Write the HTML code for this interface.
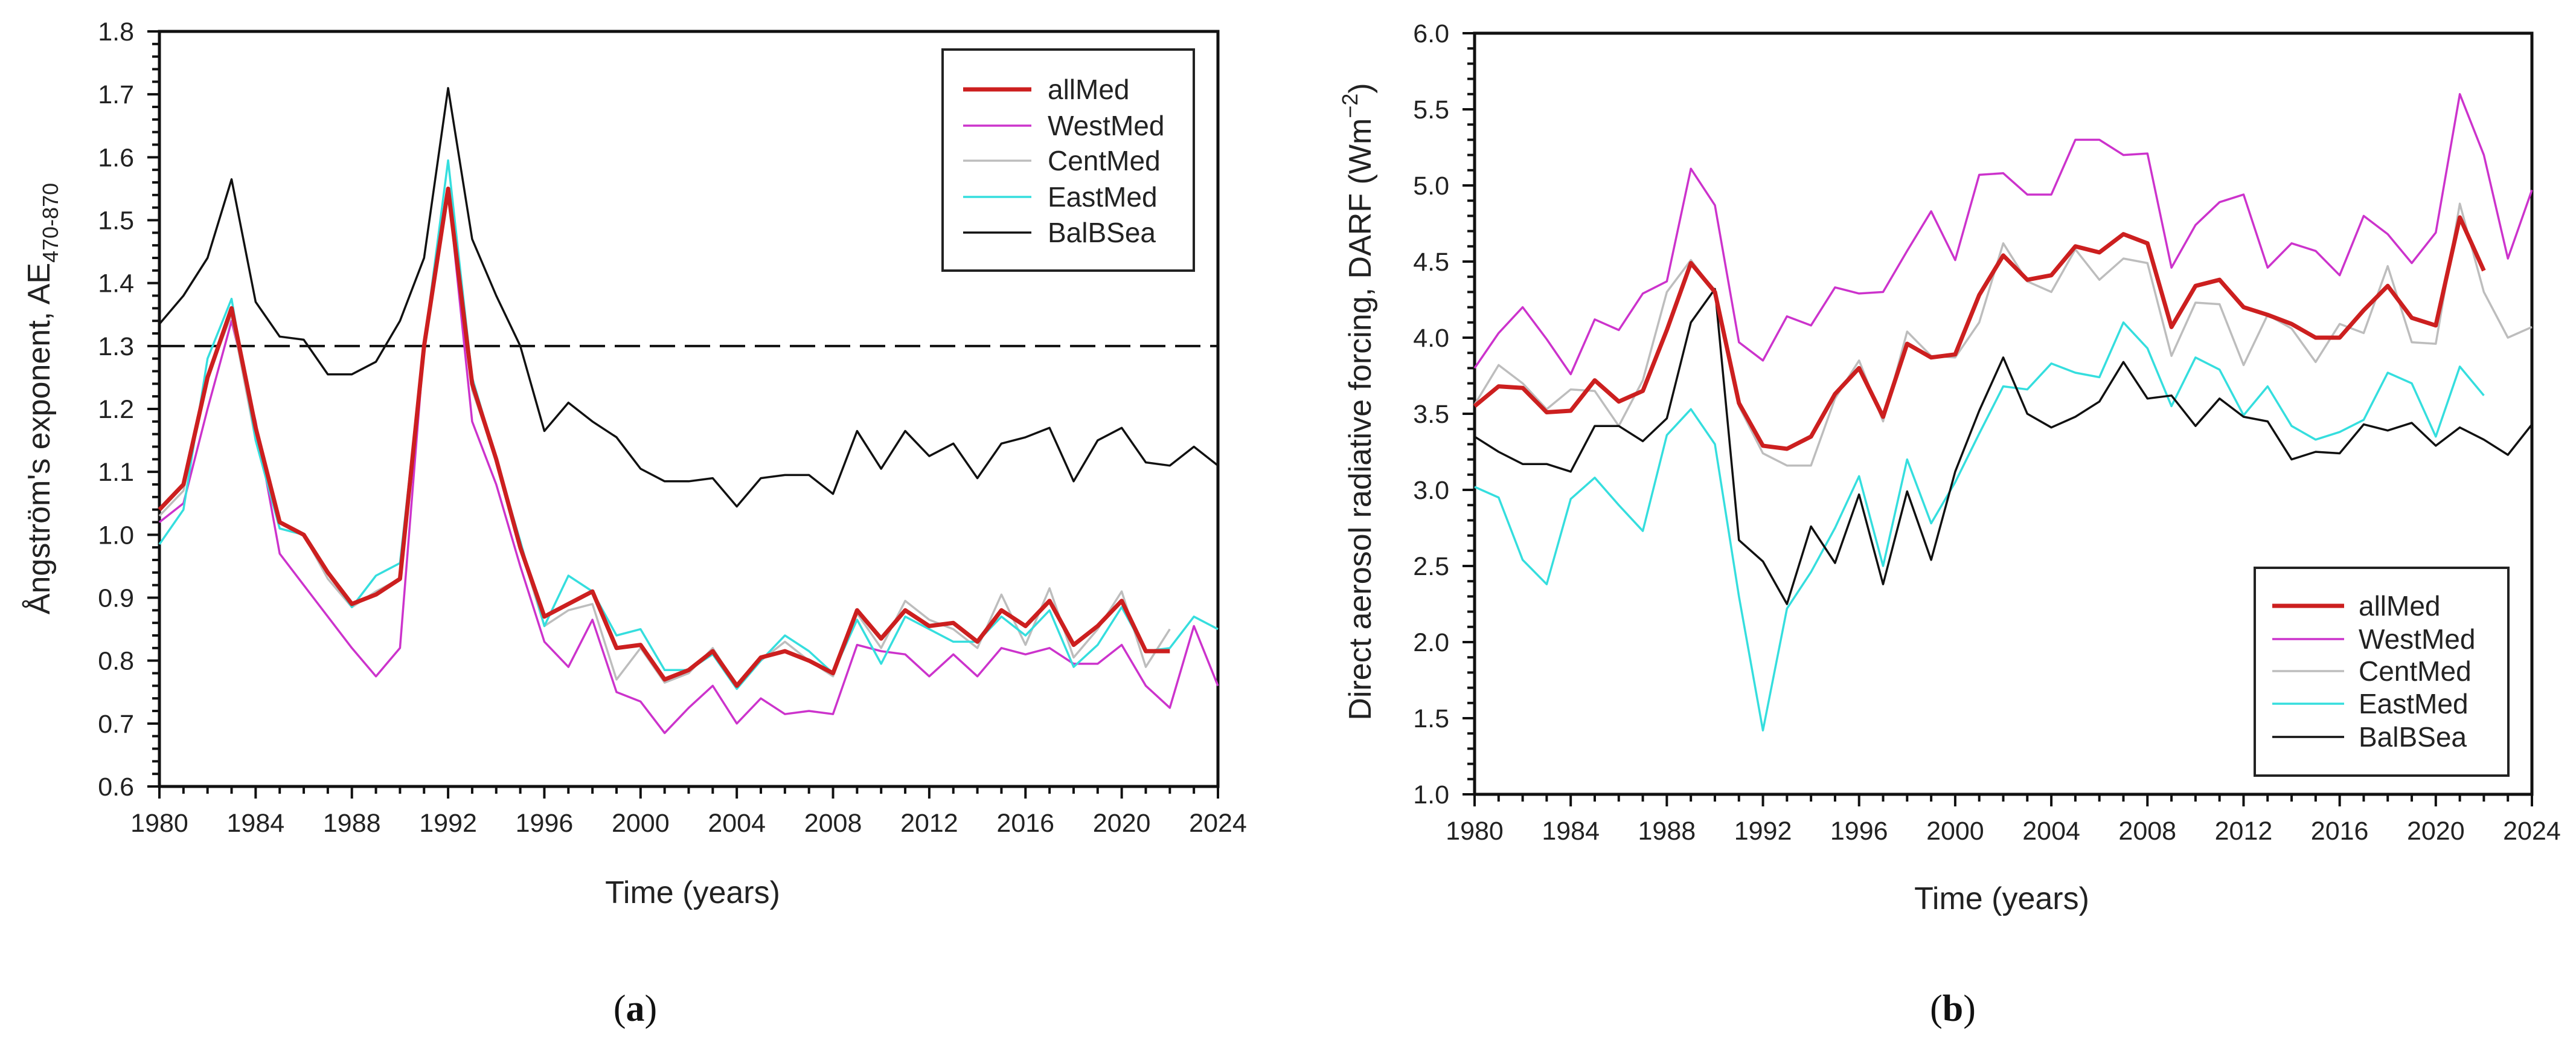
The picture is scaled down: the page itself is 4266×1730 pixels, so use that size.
<!DOCTYPE html>
<html><head><meta charset="utf-8">
<style>
html,body{margin:0;padding:0;background:#fff;}
svg{display:block;font-family:"Liberation Sans",Arial,sans-serif;}
</style></head>
<body>
<svg id="fig" width="4266" height="1730" viewBox="0 0 4266 1730" xmlns="http://www.w3.org/2000/svg"></svg>
<script>
const years = Array.from({length:45},(_,i)=>1980+i);
const seriesNames = ["allMed","WestMed","CentMed","EastMed","BalBSea"];
// Panel (a) AE values
const aeAllMed=[1.04,1.08,1.25,1.36,1.17,1.02,1.0,0.94,0.89,0.905,0.93,1.3,1.55,1.24,1.12,0.98,0.87,0.89,0.91,0.82,0.825,0.77,0.785,0.815,0.76,0.805,0.815,0.80,0.78,0.88,0.835,0.88,0.855,0.86,0.83,0.88,0.855,0.895,0.825,0.855,0.895,0.815,0.815];
const aeWestMed=[1.02,1.05,1.2,1.34,1.18,0.97,0.92,0.87,0.82,0.775,0.82,1.3,1.55,1.18,1.08,0.95,0.83,0.79,0.865,0.75,0.735,0.685,0.725,0.76,0.70,0.74,0.715,0.72,0.715,0.825,0.815,0.81,0.775,0.81,0.775,0.82,0.81,0.82,0.795,0.795,0.825,0.76,0.725,0.855,0.76];
const aeCentMed=[1.03,1.07,1.25,1.35,1.15,1.01,1.0,0.93,0.885,0.91,0.93,1.3,1.54,1.23,1.12,0.98,0.855,0.88,0.89,0.77,0.82,0.765,0.78,0.82,0.76,0.80,0.83,0.80,0.775,0.875,0.82,0.895,0.865,0.85,0.82,0.905,0.825,0.915,0.805,0.85,0.91,0.79,0.85];
const aeEastMed=[0.985,1.04,1.28,1.375,1.15,1.01,1.0,0.94,0.885,0.935,0.955,1.3,1.595,1.25,1.12,0.99,0.855,0.935,0.91,0.84,0.85,0.785,0.785,0.81,0.755,0.80,0.84,0.815,0.78,0.865,0.795,0.87,0.85,0.83,0.83,0.87,0.84,0.88,0.79,0.825,0.885,0.815,0.82,0.87,0.85];
const aeBalBSea=[1.335,1.38,1.44,1.565,1.37,1.315,1.31,1.255,1.255,1.275,1.34,1.44,1.71,1.47,1.38,1.30,1.165,1.21,1.18,1.155,1.105,1.085,1.085,1.09,1.045,1.09,1.095,1.095,1.065,1.165,1.105,1.165,1.125,1.145,1.09,1.145,1.155,1.17,1.085,1.15,1.17,1.115,1.11,1.14,1.11];
// Panel (b) DARF values
const dAllMed=[3.55,3.68,3.67,3.51,3.52,3.72,3.58,3.65,4.05,4.49,4.3,3.57,3.29,3.27,3.35,3.63,3.80,3.48,3.96,3.87,3.89,4.28,4.54,4.38,4.41,4.60,4.56,4.68,4.62,4.07,4.34,4.38,4.20,4.15,4.09,4.00,4.00,4.18,4.34,4.13,4.08,4.79,4.44];
const dWestMed=[3.80,4.03,4.20,3.99,3.76,4.12,4.05,4.29,4.37,5.11,4.87,3.97,3.85,4.14,4.08,4.33,4.29,4.30,4.57,4.83,4.51,5.07,5.08,4.94,4.94,5.30,5.30,5.20,5.21,4.46,4.74,4.89,4.94,4.46,4.62,4.57,4.41,4.80,4.68,4.49,4.69,5.60,5.20,4.52,4.97];
const dCentMed=[3.56,3.82,3.70,3.53,3.66,3.65,3.42,3.72,4.30,4.51,4.30,3.55,3.24,3.16,3.16,3.60,3.85,3.45,4.04,3.88,3.87,4.10,4.62,4.37,4.30,4.58,4.38,4.52,4.49,3.88,4.23,4.22,3.82,4.15,4.06,3.84,4.09,4.03,4.47,3.97,3.96,4.88,4.30,4.00,4.07];
const dEastMed=[3.02,2.95,2.54,2.38,2.94,3.08,2.90,2.73,3.36,3.53,3.30,2.30,1.42,2.22,2.46,2.75,3.09,2.50,3.20,2.78,3.05,3.37,3.68,3.66,3.83,3.77,3.74,4.10,3.93,3.55,3.87,3.79,3.49,3.68,3.42,3.33,3.38,3.46,3.77,3.70,3.35,3.81,3.62];
const dBalBSea=[3.35,3.25,3.17,3.17,3.12,3.42,3.42,3.32,3.47,4.10,4.32,2.67,2.53,2.25,2.76,2.52,2.97,2.38,2.99,2.54,3.12,3.52,3.87,3.50,3.41,3.48,3.58,3.84,3.60,3.62,3.42,3.60,3.48,3.45,3.20,3.25,3.24,3.43,3.39,3.44,3.29,3.41,3.33,3.23,3.43];
const xTickLabels=["1980","1984","1988","1992","1996","2000","2004","2008","2012","2016","2020","2024"];
const aeTickLabels=["0.6","0.7","0.8","0.9","1.0","1.1","1.2","1.3","1.4","1.5","1.6","1.7","1.8"];
const dTickLabels=["1.0","1.5","2.0","2.5","3.0","3.5","4.0","4.5","5.0","5.5","6.0"];

const NS="http://www.w3.org/2000/svg";
const svg=document.getElementById('fig');
function mk(tag,attrs,parent){const e=document.createElementNS(NS,tag);for(const k in attrs)e.setAttribute(k,attrs[k]);(parent||svg).appendChild(e);return e;}
const colors={allMed:"#cc1f1f",WestMed:"#cc33cc",CentMed:"#bdbdbd",EastMed:"#35dede",BalBSea:"#111111"};
const widths={allMed:7,WestMed:3.5,CentMed:3.5,EastMed:3.5,BalBSea:3.5};

function panel(cfg){
  const g=mk('g',{});
  
  
  const X=y=>cfg.x0+(y-1980)*(cfg.x1-cfg.x0)/44;
  const Y=v=>cfg.y1-(v-cfg.ymin)*(cfg.y1-cfg.y0)/(cfg.ymax-cfg.ymin);
  // frame
  const fr=mk('rect',{x:cfg.x0,y:cfg.y0,width:cfg.x1-cfg.x0,height:cfg.y1-cfg.y0,fill:'none',stroke:'#111','stroke-width':5},g);
  
  
  // x ticks
  for(let yr=1980;yr<=2024;yr++){
    const major=(yr-1980)%4===0;
    mk('line',{x1:X(yr),x2:X(yr),y1:cfg.y1,y2:cfg.y1+(major?20:12),stroke:'#111','stroke-width':4},g);
  }
  xTickLabels.forEach(t=>{
    const tx=mk('text',{x:X(+t),y:cfg.y1+75,'font-size':43,'text-anchor':'middle',fill:'#222'},g);
    tx.textContent=t;
    
    
  });
  // y ticks
  const nMinor=Math.round((cfg.ymax-cfg.ymin)/cfg.minor);
  for(let i=0;i<=nMinor;i++){
    const v=cfg.ymin+i*cfg.minor;const major=i%5===0;
    mk('line',{x1:cfg.x0-(major?20:12),x2:cfg.x0,y1:Y(v),y2:Y(v),stroke:'#111','stroke-width':4},g);
  }
  cfg.ticks.forEach(t=>{
    const tx=mk('text',{x:cfg.x0-42,y:Y(+t)+15,'font-size':43,'text-anchor':'end',fill:'#222'},g);
    tx.textContent=t;
    
    
  });
  if(cfg.dash){
    const d=mk('line',{x1:cfg.x0,x2:cfg.x1,y1:Y(cfg.dash),y2:Y(cfg.dash),stroke:'#111','stroke-width':4,'stroke-dasharray':'42 16'},g);
    
    
  }
  // series
  cfg.order.forEach(n=>{
    const vals=cfg.data[n];
    const pts=vals.map((v,i)=>X(years[i]).toFixed(1)+','+Y(v).toFixed(1)).join(' ');
    const pl=mk('polyline',{points:pts,fill:'none',stroke:colors[n],'stroke-width':widths[n],'stroke-linejoin':'round'},g);
    
    
  });
  // legend
  const L=cfg.legend;
  const lg=mk('g',{},g);
  
  
  mk('rect',{x:L.x,y:L.y,width:L.w,height:L.h,fill:'#fff',stroke:'#222','stroke-width':4},lg);
  seriesNames.forEach((n,i)=>{
    const yy=L.rows[i];
    mk('line',{x1:L.lx0,x2:L.lx1,y1:yy,y2:yy,stroke:colors[n],'stroke-width':widths[n]},lg);
    const t=mk('text',{x:L.tx,y:yy+16,'font-size':46,fill:'#222'},lg);
    t.textContent=n;
    
    
  });
  // titles
  const xt=mk('text',{x:cfg.xt[0],y:cfg.xt[1],'font-size':52,'text-anchor':'middle',fill:'#222'},g);
  xt.textContent='Time (years)';
  
  
  const yt=mk('text',{x:0,y:0,'font-size':52,'text-anchor':'middle',fill:'#222',transform:`translate(${cfg.yt[0]},${cfg.yt[1]}) rotate(-90)`},g);
  yt.innerHTML=cfg.ytitle;
  
  
  const pl=mk('text',{x:cfg.pl[0],y:cfg.pl[1],'font-size':62,'text-anchor':'middle',fill:'#111','font-family':'Liberation Serif, serif'},g);
  pl.innerHTML=cfg.plabel;
  
  
}

panel({name:'panel-a',x0:264,x1:2017,y0:52,y1:1302,ymin:0.6,ymax:1.8,minor:0.02,ticks:aeTickLabels,dash:1.3,
  data:{allMed:aeAllMed,WestMed:aeWestMed,CentMed:aeCentMed,EastMed:aeEastMed,BalBSea:aeBalBSea},
  order:['BalBSea','WestMed','CentMed','EastMed','allMed'],
  legend:{x:1561,y:82,w:416,h:366,rows:[148,208,266,326,385],lx0:1595,lx1:1708,tx:1735},
  xt:[1147,1495],yt:[82,660],
  ytitle:'Ångström\'s exponent, AE<tspan font-size="36" dy="14">470-870</tspan>',
  pl:[1052,1690],plabel:'(<tspan font-weight="bold">a</tspan>)'});

panel({name:'panel-b',x0:2442,x1:4193,y0:55,y1:1315,ymin:1.0,ymax:6.0,minor:0.1,ticks:dTickLabels,
  data:{allMed:dAllMed,WestMed:dWestMed,CentMed:dCentMed,EastMed:dEastMed,BalBSea:dBalBSea},
  order:['WestMed','CentMed','EastMed','BalBSea','allMed'],
  legend:{x:3734,y:940,w:420,h:344,rows:[1003,1058,1111,1165,1220],lx0:3763,lx1:3882,tx:3906},
  xt:[3315,1505],yt:[2270,665],
  ytitle:'Direct aerosol radiative forcing, DARF (Wm<tspan font-size="36" dy="-22">−2</tspan><tspan dy="22">)</tspan>',
  pl:[3234,1690],plabel:'(<tspan font-weight="bold">b</tspan>)'});
</script>
</body></html>
